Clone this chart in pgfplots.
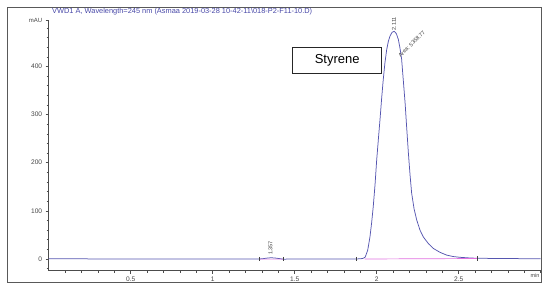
\documentclass[border=0pt]{standalone}
\usepackage{fontspec}
\setmainfont{Liberation Sans}
\usepackage{pgfplots}
\pgfplotsset{compat=1.18}

\definecolor{trace}{HTML}{5656B0}
\definecolor{basel}{HTML}{E070E0}
\definecolor{ttl}{HTML}{4848A8}
\definecolor{tickc}{HTML}{444444}

\begin{document}
\begin{tikzpicture}
\useasboundingbox (0,0) rectangle (550pt,294pt);
% outer frame of the report
\draw[line width=0.8pt, black!65] (7.3pt,11.7pt) rectangle (541pt,286.7pt);
\node[anchor=west, text=ttl, font=\fontsize{7.4}{8}\selectfont, inner sep=0pt]
  at (52pt,282.3pt) {VWD1 A, Wavelength=245 nm (Asmaa 2019-03-28 10-42-11\textbackslash 018-P2-F11-10.D)};

\begin{axis}[
    at={(48.7pt,23.3pt)}, anchor=south west,
    scale only axis,
    width=492pt, height=250pt,
    xmin=0, xmax=3, ymin=-24.3, ymax=495,
    axis lines*=left,
    axis line style={black!70, line width=0.6pt},
    xtick={0.5,1,1.5,2,2.5},
    xticklabels={0.5,1,1.5,2,2.5},
    minor xtick={0.1,0.2,...,2.95},
    ytick={0,100,200,300,400},
    minor ytick={-20,20,40,60,80,120,140,160,180,220,240,260,280,320,340,360,380,420,440,460,480},
    extra y ticks={495},
    extra y tick labels={mAU},
    extra y tick style={ticklabel style={font=\fontsize{6}{7}\selectfont}},
    tick align=outside,
    major tick length=3pt,
    minor tick length=2pt,
    tick style={black!70, line width=0.5pt},
    ticklabel style={font=\fontsize{6.6}{7}\selectfont, text=tickc},
    /pgf/number format/assume math mode=true,
    clip=false,
]
% chromatogram trace
\addplot[trace, line width=0.75pt] coordinates {
    (0,0.3) (0.5,0.2) (1.0,0.1) (1.284,0) (1.31,0.8) (1.335,2.0) (1.357,2.6)
    (1.38,2.0) (1.405,0.9) (1.429,-0.3) (1.6,0) (1.873,0)
    (1.905,0.6) (1.918,1.5) (1.93,4) (1.945,18) (1.959,46) (1.969,75)
    (1.979,109) (1.99,155) (2.000,206) (2.010,248) (2.020,289) (2.030,333)
    (2.040,373) (2.050,407) (2.061,435) (2.071,452) (2.081,463) (2.094,471)
    (2.107,473) (2.120,468) (2.132,456) (2.142,438) (2.152,415) (2.162,372)
    (2.173,325) (2.183,272) (2.193,221) (2.203,176) (2.213,137) (2.228,104)
    (2.244,81) (2.264,60) (2.284,46) (2.315,32) (2.345,22) (2.385,14)
    (2.427,8) (2.468,5) (2.508,3.5) (2.56,2.3) (2.611,1.5) (2.8,0.9) (3.0,0.5)
};
% integration baselines
\addplot[basel, line width=0.7pt] coordinates {(1.926,0) (2.611,1.0)};
\addplot[basel, line width=0.5pt] coordinates {(1.284,0) (1.429,-0.3)};
% peak start/end markers
\addplot[black!75, only marks, mark=|, mark size=2.2pt, mark options={line width=0.5pt}]
  coordinates {(1.284,0) (1.429,-0.3) (1.873,0) (2.611,1.0)};

% annotations
\node[rotate=90, anchor=west, font=\fontsize{5.5}{6}\selectfont, text=black!75, inner sep=0.5pt]
  at (axis cs:1.352,7) {1.357};
\node[rotate=90, anchor=west, font=\fontsize{5.5}{6}\selectfont, text=black!75, inner sep=0.5pt]
  at (axis cs:2.105,474) {2.111};
\node[rotate=45, anchor=west, font=\fontsize{5.5}{6}\selectfont, text=black!75, inner sep=0.3pt]
  at (axis cs:2.136,420) {Area: 5358.77};
\node[draw=black!85, line width=0.8pt, minimum width=89pt, minimum height=26pt,
      font=\fontsize{13}{15}\selectfont, inner sep=0pt]
  at (axis cs:1.759,413) {Styrene};
\node[anchor=north east, font=\fontsize{5.5}{6}\selectfont, text=tickc, inner sep=1pt]
  at (axis cs:3,-27) {min};
\end{axis}
\end{tikzpicture}
\end{document}
